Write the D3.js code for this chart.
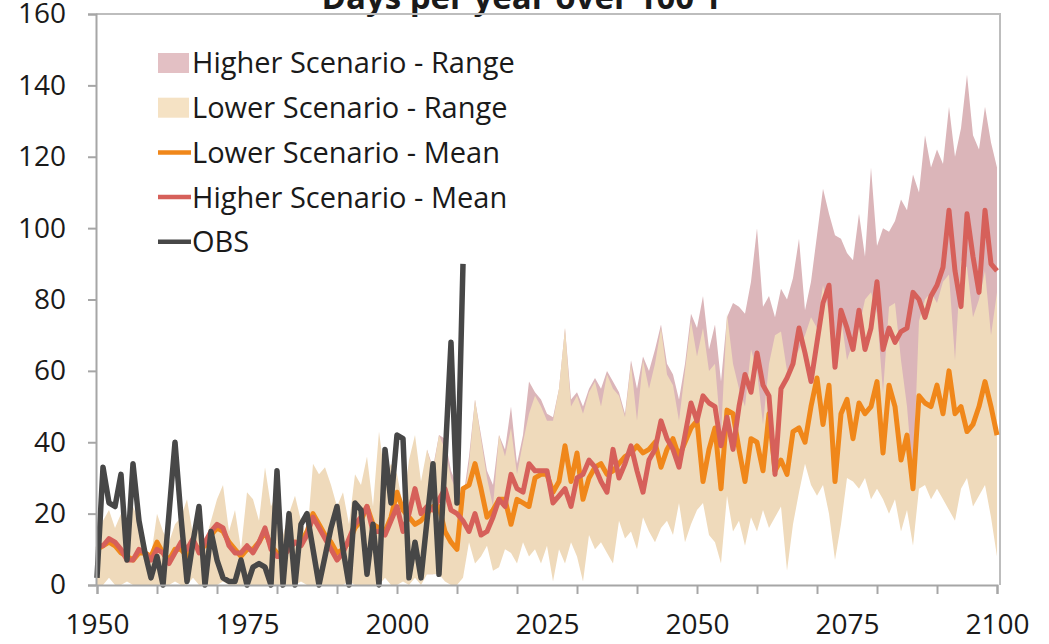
<!DOCTYPE html>
<html>
<head>
<meta charset="utf-8">
<script src="https://cdn.jsdelivr.net/npm/d3@7/dist/d3.min.js"></script>
<style>
  html, body { margin: 0; padding: 0; background: #fff; }
  svg { display: block; }
  text { font-family: "Open Sans", "Noto Sans", sans-serif; fill: #1a1a1a; }
</style>
</head>
<body>
<svg id="chart" width="1049" height="644"></svg>
<script>
// ---- Data: days per year over 100°F ----
const firstYear = 1950;   // model series run 1950–2100, one value per year
const obsFirstYear = 1950; // observations 1950–2011
const higherFirstYear = 2005; // higher-scenario range shown from 2005

const higherMean = [
  11, 11, 13, 12, 10, 7, 7, 10, 9, 7,
  10, 9, 6, 9, 12, 10, 13, 9, 12, 15,
  17, 16, 11, 9, 9, 11, 9, 12, 16, 10,
  8, 8, 10, 12, 11, 14, 19, 16, 13, 10,
  7, 9, 13, 17, 19, 22, 15, 15, 14, 18,
  22, 15, 20, 27, 20, 22, 21, 24, 27, 21,
  20, 18, 15, 20, 14, 15, 19, 24, 22, 31,
  27, 26, 34, 32, 32, 32, 23, 25, 27, 22,
  30, 31, 35, 33, 29, 26, 38, 30, 34, 39,
  32, 26, 35, 38, 46, 41, 38, 33, 42, 51,
  46, 53, 51, 50, 39, 47, 38, 50, 59, 54,
  65, 56, 53, 31, 55, 58, 62, 72, 65, 57,
  68, 79, 84, 61, 77, 72, 66, 77, 66, 72,
  85, 66, 72, 68, 71, 72, 82, 80, 75, 81,
  84, 89, 105, 88, 78, 104, 92, 82, 105, 90,
  88
];

const lowerMean = [
  10, 11, 12, 11, 9, 8, 7, 9, 9, 8,
  12, 9, 7, 10, 10, 8, 12, 10, 11, 14,
  16, 15, 12, 10, 8, 10, 10, 12, 15, 11,
  9, 8, 11, 12, 12, 15, 20, 17, 14, 12,
  9, 10, 12, 16, 18, 22, 17, 16, 15, 19,
  26, 21, 19, 17, 18, 20, 22, 22, 15, 12,
  10, 27, 28, 34, 27, 19, 21, 24, 24, 17,
  24, 23, 22, 30, 31, 31, 26, 29, 39, 29,
  37, 24, 30, 33, 34, 31, 32, 34, 36, 37,
  39, 37, 38, 40, 33, 38, 41, 36, 40, 44,
  46, 29, 38, 44, 27, 49, 48, 38, 29, 41,
  40, 32, 48, 32, 35, 31, 43, 44, 40, 50,
  58, 45, 56, 29, 48, 52, 41, 51, 48, 50,
  57, 37, 56, 50, 35, 42, 27, 53, 51, 50,
  56, 48, 60, 48, 50, 43, 45, 50, 57, 50,
  42
];

const lowerMax = [
  14, 18, 21, 16, 20, 13, 22, 18, 10, 8,
  20, 15, 12, 17, 19, 24, 14, 16, 12, 18,
  24, 28, 15, 21, 10, 26, 24, 18, 33, 22,
  26, 14, 20, 25, 18, 13, 34, 31, 33, 28,
  22, 26, 17, 31, 28, 36, 22, 43, 30, 34,
  31, 22, 35, 42, 29, 38, 32, 42, 38, 30,
  26, 22, 34, 52, 41, 30, 22, 42, 36, 44,
  31, 40, 48, 53, 50, 46, 46, 55, 72, 50,
  53, 48, 54, 57, 50, 59, 55, 53, 47, 62,
  46, 63, 55, 62, 72, 59, 56, 46, 60, 74,
  64, 72, 60, 62, 42, 76, 62, 55, 50, 66,
  60, 45, 62, 70, 71, 60, 63, 66, 70, 75,
  72, 84, 76, 62, 75, 63, 68, 72, 80, 82,
  76, 54, 78, 79, 63, 50, 30, 74, 80, 82,
  79, 85, 87, 63, 91, 89, 75, 80, 88, 70,
  82
];

const lowerMin = [
  0, 0, 2, 0, 0, 1, 0, 0, 0, 0,
  0, 0, 0, 1, 0, 0, 2, 0, 0, 0,
  0, 1, 0, 0, 0, 0, 0, 0, 0, 0,
  0, 0, 0, 0, 1, 0, 0, 0, 0, 0,
  0, 0, 1, 0, 0, 0, 0, 0, 2, 0,
  0, 1, 0, 2, 0, 3, 3, 3, 1, 0,
  0, 2, 12, 6, 8, 11, 4, 5, 10, 9,
  6, 12, 8, 10, 6, 11, 1, 10, 6, 12,
  8, 1, 14, 10, 12, 9, 6, 18, 13, 15,
  10, 19, 15, 12, 16, 18, 14, 23, 12, 17,
  21, 23, 14, 12, 6, 25, 15, 18, 11, 19,
  15, 21, 16, 19, 22, 4, 17, 26, 34, 28,
  25, 28, 20, 7, 17, 30, 29, 27, 30, 24,
  27, 24, 20, 24, 15, 21, 11, 27, 28, 24,
  27, 24, 21, 18, 27, 30, 22, 25, 28, 19,
  8
];

// higher scenario range, 2005–2100
const higherMax = [
  38, 33, 42, 41, 32,
  28, 24, 36, 52, 42, 32, 28, 42, 38, 50,
  34, 42, 57, 54, 52, 48, 47, 55, 72, 52,
  54, 50, 55, 58, 55, 60, 57, 54, 48, 63,
  55, 64, 60, 66, 73, 62, 59, 52, 62, 76,
  72, 81, 66, 73, 57, 75, 79, 78, 76, 85,
  100, 78, 81, 75, 83, 80, 86, 97, 77, 85,
  98, 111, 104, 98, 97, 93, 91, 104, 92, 117,
  95, 100, 99, 102, 108, 105, 115, 110, 126, 117,
  122, 118, 134, 120, 128, 143, 126, 122, 134, 124,
  117
];

const higherMin = [
  3, 3, 4, 2, 1,
  1, 4, 13, 8, 10, 12, 6, 8, 12, 11,
  9, 14, 12, 13, 10, 14, 8, 14, 12, 15,
  13, 8, 18, 16, 17, 15, 14, 22, 19, 21,
  18, 24, 21, 20, 23, 25, 22, 28, 22, 26,
  28, 30, 24, 22, 18, 32, 26, 28, 24, 30,
  28, 30, 28, 30, 33, 20, 30, 36, 42, 40,
  38, 42, 36, 28, 34, 42, 42, 40, 44, 40,
  42, 40, 38, 40, 34, 36, 22, 44, 46, 42,
  45, 42, 40, 36, 46, 48, 40, 44, 46, 38,
  30
];

const observed = [
  2, 33, 23, 22, 31, 7, 34, 18, 9, 2,
  8, 0, 20, 40, 19, 1, 12, 22, 0, 15,
  7, 2, 1, 1, 7, 0, 5, 6, 5, 0,
  32, 0, 20, 0, 17, 20, 10, 0, 8, 16,
  22, 10, 0, 23, 21, 3, 17, 0, 38, 23,
  42, 41, 2, 12, 2, 18, 34, 3, 35, 68,
  23, 90
];

const yTickValues = [0, 20, 40, 60, 80, 100, 120, 140, 160];
const xTickYears = [1950, 1960, 1970, 1980, 1990, 2000, 2010, 2020, 2030, 2040, 2050, 2060, 2070, 2080, 2090, 2100];
const xLabelYears = [1950, 1975, 2000, 2025, 2050, 2075, 2100];

const titleText = "Days per year over 100°F";
const legendItems = [
  { label: "Higher Scenario - Range", kind: "area", color: "#e3c0c4" },
  { label: "Lower Scenario - Range",  kind: "area", color: "#f5e2c4" },
  { label: "Lower Scenario - Mean",   kind: "line", color: "#f0871a" },
  { label: "Higher Scenario - Mean",  kind: "line", color: "#d6605a" },
  { label: "OBS",                     kind: "line", color: "#474747" }
];

// ---- Chart ----
const svg = d3.select("#chart");
const plot = { left: 96, right: 1000, top: 14, bottom: 585 };

const x = d3.scaleLinear().domain([1950, 2100]).range([97, 997]);
const y = d3.scaleLinear().domain([0, 160]).range([plot.bottom, plot.top]);

const toPoints = (arr, start) => arr.map((v, i) => ({ year: start + i, v }));
const toBand = (lo, hi, start) => lo.map((v, i) => ({ year: start + i, lo: v, hi: hi[i] }));

const band = d3.area()
  .x(d => x(d.year))
  .y0(d => y(d.lo))
  .y1(d => y(d.hi));

const line = d3.line()
  .x(d => x(d.year))
  .y(d => y(d.v));

// title (sits partly above the top edge)
svg.append("text")
  .attr("x", 524).attr("y", 9)
  .attr("text-anchor", "middle")
  .style("font-weight", "bold")
  .style("font-size", "33px")
  .text(titleText);

// plot frame (top and right)
svg.append("path")
  .attr("d", `M${plot.left},${plot.top}H${plot.right}V${plot.bottom}`)
  .attr("fill", "none")
  .attr("stroke", "#bdbdbd")
  .attr("stroke-width", 2);

// ranges
svg.append("path")
  .datum(toBand(higherMin, higherMax, higherFirstYear))
  .attr("d", band)
  .attr("fill", "#dbb5b9");

svg.append("path")
  .datum(toBand(lowerMin, lowerMax, firstYear))
  .attr("d", band)
  .attr("fill", "#efdabb");

// means
svg.append("path")
  .datum(toPoints(lowerMean, firstYear))
  .attr("d", line)
  .attr("fill", "none")
  .attr("stroke", "#f0871a")
  .attr("stroke-width", 5)
  .attr("stroke-linejoin", "round");

svg.append("path")
  .datum(toPoints(higherMean, firstYear))
  .attr("d", line)
  .attr("fill", "none")
  .attr("stroke", "#d6605a")
  .attr("stroke-width", 5)
  .attr("stroke-linejoin", "round");

// observations
svg.append("path")
  .datum(toPoints(observed, obsFirstYear))
  .attr("d", line)
  .attr("fill", "none")
  .attr("stroke", "#474747")
  .attr("stroke-width", 5.5)
  .attr("stroke-linejoin", "round");

// y axis
const yAxis = svg.append("g")
  .attr("transform", `translate(${plot.left},0)`)
  .call(d3.axisLeft(y).tickValues(yTickValues).tickSize(8).tickPadding(22).tickFormat(d3.format("d")));

// x axis: tick marks every 10 years, labels every 25 years
const xAxis = svg.append("g")
  .attr("transform", `translate(0,${plot.bottom})`)
  .call(d3.axisBottom(x).tickValues(xTickYears).tickSize(9).tickFormat(""));

const xLabels = svg.append("g")
  .attr("transform", `translate(0,${plot.bottom})`)
  .call(d3.axisBottom(x).tickValues(xLabelYears).tickSize(0).tickPadding(29).tickFormat(d3.format("d")));

[yAxis, xAxis, xLabels].forEach(g => {
  g.select(".domain").attr("stroke", "#a6a6a6").attr("stroke-width", 2);
  g.selectAll(".tick line").attr("stroke", "#a6a6a6").attr("stroke-width", 2);
  g.selectAll(".tick text")
    .style("font-family", '"Open Sans", "Noto Sans", sans-serif')
    .style("font-size", "28px")
    .attr("fill", "#1a1a1a");
});
xLabels.select(".domain").remove();

// legend
const legend = svg.append("g").attr("transform", "translate(158,63)");
legendItems.forEach((item, i) => {
  const row = legend.append("g").attr("transform", `translate(0,${i * 44.7})`);
  if (item.kind === "area") {
    row.append("rect").attr("x", 0).attr("y", -10).attr("width", 31).attr("height", 20).attr("fill", item.color);
  } else {
    row.append("line").attr("x1", 0).attr("x2", 33).attr("y1", 0).attr("y2", 0)
      .attr("stroke", item.color).attr("stroke-width", 4.5);
  }
  row.append("text")
    .attr("x", 34).attr("y", 0).attr("dy", "0.36em")
    .style("font-size", "29px")
    .text(item.label);
});
</script>
</body>
</html>
